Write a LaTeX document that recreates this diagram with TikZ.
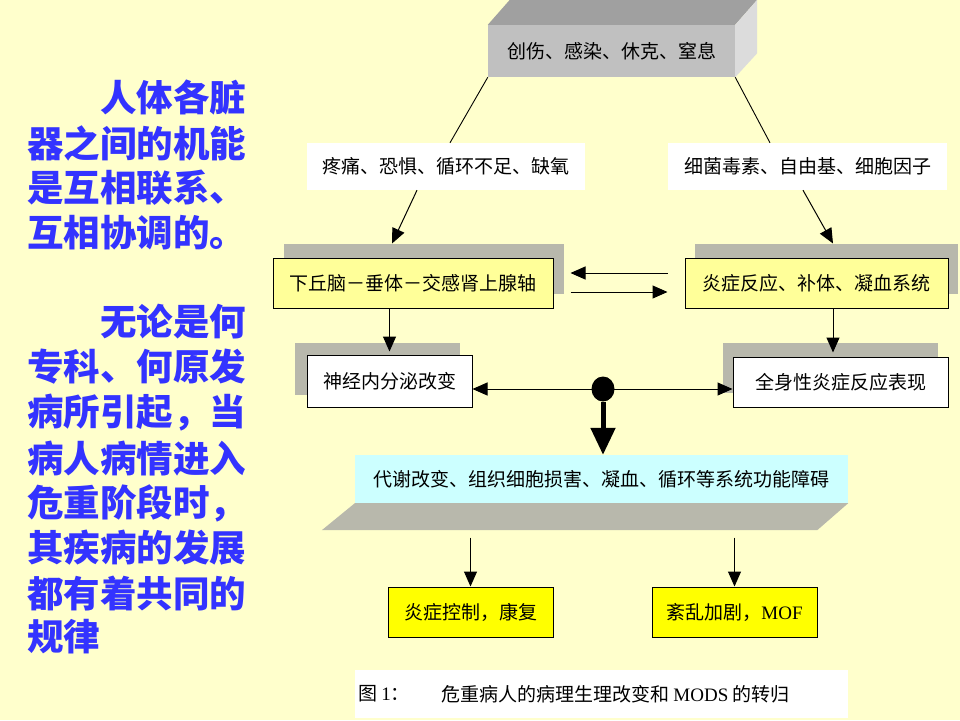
\documentclass[tikz,border=0pt]{standalone}
\usepackage{fontspec}
\setmainfont{Liberation Serif}
\newfontfamily\cjk{Noto Sans CJK SC}
\newfontfamily\lat{Liberation Serif}
\usetikzlibrary{arrows.meta,calc,shadows,shapes.geometric}
\definecolor{bg}{RGB}{255,255,204}
\definecolor{lblue}{RGB}{51,51,255}
\definecolor{topfront}{RGB}{192,192,192}
\definecolor{toptop}{RGB}{160,160,160}
\definecolor{topside}{RGB}{220,220,220}
\definecolor{paleyel}{RGB}{255,255,153}
\definecolor{brightyel}{RGB}{255,255,0}
\definecolor{lcyan}{RGB}{204,255,255}
\definecolor{shadowgray}{RGB}{184,184,172}
\tikzset{
  lefttxt/.style={anchor=west, inner sep=0pt, text=lblue, font=\cjk\bfseries\fontsize{36.5}{40}\selectfont},
  base/.style={inner sep=0pt, text=black, font=\cjk\fontsize{19}{22}\selectfont},
  wbox/.style={base, fill=white},
  framed/.style={base, draw=black, line width=1pt},
  arr/.style={draw=black, line width=1pt, -{Triangle[length=15pt,width=13pt]}},
  thinline/.style={draw=black, line width=0.9pt},
  bigarr/.style={draw=black, line width=5pt, -{Triangle[length=27pt,width=24pt]}},
  shad/.style 2 args={general shadow={shadow xshift=#1pt, shadow yshift=#2pt, fill=shadowgray}}
}
\begin{document}
\begin{tikzpicture}[x=1pt,y=-1pt]
\useasboundingbox (0,0) rectangle (960,720);
\fill[bg] (0,0) rectangle (960,720);

% left text
\node[lefttxt] (l1) at (100,98) {人体各脏};
\node[lefttxt] (l2) at (27,143) {器之间的机能};
\node[lefttxt] (l3) at (27,188) {是互相联系、};
\node[lefttxt] (l4) at (27,233) {互相协调的。};
\node[lefttxt] (m1) at (100,322) {无论是何};
\node[lefttxt] (m2) at (27,367) {专科、何原发};
\node[lefttxt] (m3) at (27,413) {病所引起，当};
\node[lefttxt] (m4) at (27,459) {病人病情进入};
\node[lefttxt] (m5) at (27,503) {危重阶段时，};
\node[lefttxt] (m6) at (27,548) {其疾病的发展};
\node[lefttxt] (m7) at (27,594) {都有着共同的};
\node[lefttxt] (m8) at (27,637) {规律};

% top 3D box
\node[base, fill=topfront, minimum width=247pt, minimum height=52pt] (top) at (611.5,51) {创伤、感染、休克、窒息};
\fill[toptop] (top.north west) -- ++(22,-25) -- ($(top.north east)+(22,-25)$) -- (top.north east) -- cycle;
\fill[topside] (top.north east) -- ++(22,-25) -- ($(top.south east)+(22,-24)$) -- (top.south east) -- cycle;

% second row
\node[wbox, minimum width=278pt, minimum height=47pt] (pain) at (446,166.5) {疼痛、恐惧、循环不足、缺氧};
\node[wbox, minimum width=279pt, minimum height=47pt] (bact) at (807.5,166.5) {细菌毒素、自由基、细胞因子};
\draw[thinline] (top.south west) -- ($(pain.north)+(4,0)$);
\draw[thinline] (top.south east) -- ($(bact.north)+(-37.5,0)$);

% third row
\node[framed, fill=paleyel, minimum width=280pt, minimum height=50pt, shad={11}{14}] (hpa) at (413,283) {下丘脑－垂体－交感肾上腺轴};
\node[framed, fill=paleyel, minimum width=263pt, minimum height=50pt, shad={10}{14}] (infl) at (816.5,283) {炎症反应、补体、凝血系统};
\draw[arr] ($(pain.south)+(-29,0)$) -- ($(hpa.north)+(-21,-14)$);
\draw[arr] ($(bact.south)+(-4.5,0)$) -- ($(infl.north)+(16.5,-14)$);
\draw[arr] ($(infl.west)+(-17,-10)$) -- ($(hpa.east)+(17,-10)$);
\draw[arr] ($(hpa.east)+(17,9)$) -- ($(infl.west)+(-17,9)$);

% fourth row
\node[framed, fill=white, minimum width=165pt, minimum height=52pt, shad={-12}{12}] (neuro) at (389.5,381) {神经内分泌改变};
\node[framed, fill=white, minimum width=215pt, minimum height=50pt, shad={-10}{14}] (sirs) at (840.5,382) {全身性炎症反应表现};
\draw[arr] (hpa.south -| neuro.north) -- ($(neuro.north)+(0,-3)$);
\draw[arr] ($(infl.south)+(16.5,0)$) -- ($(sirs.north)+(-7.5,-4)$);

\node[fill=black, ellipse, minimum width=23pt, minimum height=25pt, inner sep=0pt] (dot) at (603,389) {};
\draw[arr] (dot.center) -- (neuro.east |- dot.center);
\draw[arr] (dot.center) -- (sirs.west |- dot.center);

% cyan row
\node[base, fill=lcyan, minimum width=493pt, minimum height=48pt] (cy) at (601.5,479) {代谢改变、组织细胞损害、凝血、循环等系统功能障碍};
\fill[shadowgray] (cy.south west) -- (cy.south east) -- ++(-31,27) -- ($(cy.south west)+(-33,27)$) -- cycle;
\draw[bigarr] (dot.south) -- (dot.south |- cy.north);

% outcomes
\node[framed, fill=brightyel, minimum width=165pt, minimum height=50pt] (good) at (470.5,612) {炎症控制，康复};
\node[framed, fill=brightyel, minimum width=165pt, minimum height=50pt] (bad) at (734.5,612) {紊乱加剧，{\lat MOF}};
\draw[arr] ($(good.north)+(0,-49)$) -- (good.north);
\draw[arr] ($(bad.north)+(0,-49)$) -- (bad.north);

% caption
\node[fill=white, minimum width=493pt, minimum height=48pt, inner sep=0pt] (cap) at (601.5,694) {};
\node[base, anchor=west] (capa) at (358,694) {图 {\lat 1}：};
\node[base, anchor=west] (capb) at (441,694) {危重病人的病理生理改变和 {\lat MODS} 的转归};
\end{tikzpicture}
\end{document}
